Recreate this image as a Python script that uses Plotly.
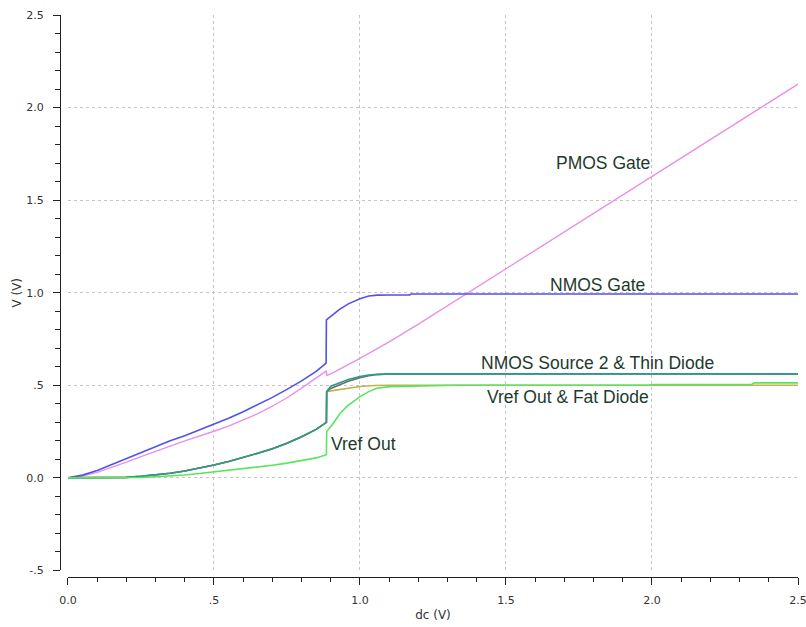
import plotly.graph_objects as go

# ---------------- data ----------------
pmos_x = [0, 0.05, 0.1, 0.15, 0.2, 0.25, 0.3, 0.35, 0.4, 0.45, 0.5, 0.55, 0.6, 0.65, 0.7, 0.75, 0.8, 0.85, 0.885,
          0.886, 0.9, 1.0, 1.1, 1.2, 1.3, 1.37, 1.5, 2.0, 2.5]
pmos_y = [0, 0.01, 0.03, 0.056, 0.085, 0.115, 0.145, 0.172, 0.2, 0.225, 0.252, 0.28, 0.312, 0.347, 0.387, 0.433, 0.485, 0.54, 0.578,
          0.553, 0.562, 0.645, 0.735, 0.83, 0.93, 1.0, 1.13, 1.628, 2.127]

ngate_x = [0, 0.05, 0.1, 0.15, 0.2, 0.25, 0.3, 0.35, 0.4, 0.45, 0.5, 0.55, 0.6, 0.65, 0.7, 0.75, 0.8, 0.85, 0.884,
           0.885, 0.9, 0.93, 0.96, 1.0, 1.03, 1.06, 1.1, 1.17, 1.175, 2.5]
ngate_y = [0, 0.015, 0.04, 0.072, 0.105, 0.14, 0.172, 0.2, 0.228, 0.258, 0.29, 0.322, 0.357, 0.395, 0.435, 0.478, 0.524, 0.575, 0.62,
           0.853, 0.872, 0.91, 0.94, 0.967, 0.982, 0.987, 0.988, 0.988, 0.993, 0.993]

# pre-jump common curve for NMOS source 2 / thin diode / fat diode
diode_pre_x = [0, 0.15, 0.2, 0.25, 0.3, 0.35, 0.4, 0.45, 0.5, 0.55, 0.6, 0.65, 0.7, 0.75, 0.8, 0.85, 0.885]
diode_pre_y = [0, 0.0, 0.003, 0.008, 0.015, 0.025, 0.037, 0.052, 0.07, 0.089, 0.11, 0.133, 0.158, 0.187, 0.222, 0.262, 0.30]

nsrc_post_x = [0.886, 0.9, 0.93, 0.96, 1.0, 1.03, 1.06, 1.1, 2.5]
nsrc_post_y = [0.466, 0.495, 0.515, 0.532, 0.547, 0.556, 0.56, 0.562, 0.562]

thin_post_x = [0.886, 0.9, 0.93, 0.96, 1.0, 1.03, 1.06, 1.1, 2.5]
thin_post_y = [0.466, 0.483, 0.503, 0.522, 0.541, 0.552, 0.558, 0.561, 0.561]

fat_post_x = [0.886, 0.9, 0.95, 1.0, 1.05, 1.1, 2.5]
fat_post_y = [0.466, 0.47, 0.484, 0.494, 0.499, 0.5, 0.5]

vref_x = [0, 0.2, 0.25, 0.3, 0.35, 0.4, 0.45, 0.5, 0.55, 0.6, 0.65, 0.7, 0.75, 0.8, 0.85, 0.885,
          0.886, 0.909, 0.93, 0.954, 0.98, 1.0, 1.03, 1.057, 1.103, 1.3, 1.33, 1.99, 2.0, 2.34, 2.35, 2.5]
vref_y = [0, 0.0, 0.002, 0.006, 0.01, 0.016, 0.024, 0.033, 0.04, 0.047, 0.057, 0.068, 0.08, 0.093, 0.108, 0.125,
          0.25, 0.295, 0.345, 0.385, 0.415, 0.439, 0.466, 0.484, 0.493, 0.496, 0.5, 0.5, 0.504, 0.504, 0.513, 0.513]

x_ticks = [0, 0.5, 1.0, 1.5, 2.0, 2.5]
x_ticktext = ["0.0", ".5", "1.0", "1.5", "2.0", "2.5"]
y_ticks = [-0.5, 0, 0.5, 1.0, 1.5, 2.0, 2.5]
y_ticktext = ["-.5", "0.0", ".5", "1.0", "1.5", "2.0", "2.5"]

labels = ["PMOS Gate", "NMOS Gate", "NMOS Source 2 &amp; Thin Diode", "Vref Out &amp; Fat Diode", "Vref Out"]
label_x = [1.832, 1.812, 1.815, 1.713, 1.013]
label_y = [1.70, 1.042, 0.619, 0.439, 0.184]

# ---------------- figure ----------------
fig = go.Figure()

def add(x, y, color, w=1.5):
    fig.add_trace(go.Scatter(x=x, y=y, mode="lines", line=dict(color=color, width=w),
                             showlegend=False, hoverinfo="skip"))

add(pmos_x, pmos_y, "#e890e8", 1.4)
add(ngate_x, ngate_y, "#5252e8", 1.6)
add(diode_pre_x + fat_post_x, diode_pre_y + fat_post_y, "#c4b04e", 1.6)
add(diode_pre_x + thin_post_x, diode_pre_y + thin_post_y, "#66706a", 1.6)
add(diode_pre_x + nsrc_post_x, diode_pre_y + nsrc_post_y, "#2f9a8a", 1.6)
add(vref_x, vref_y, "#5ee35e", 1.6)

grid = dict(showgrid=True, gridcolor="#c4c4c4", griddash="dot", gridwidth=1,
            zeroline=False, showline=False, ticks="", showticklabels=False, automargin=False)
tickfont = dict(family="DejaVu Sans", size=11, color="#333333")

fig.update_layout(
    width=806, height=627,
    margin=dict(l=60, r=8, t=15, b=50, autoexpand=False),
    paper_bgcolor="white", plot_bgcolor="white",
    xaxis=dict(domain=[0.0108, 1], range=[0, 2.5], tickvals=x_ticks, anchor="y", **grid),
    yaxis=dict(domain=[0.0116, 1], range=[-0.5, 2.5], tickvals=y_ticks, anchor="x", **grid),
    xaxis2=dict(overlaying="x", anchor="free", position=0, range=[0, 2.5], automargin=False,
                tickvals=x_ticks, ticktext=x_ticktext, ticks="outside", ticklen=7,
                tickcolor="#222", tickwidth=1.3, showline=True, linecolor="#222", linewidth=1.3,
                showgrid=False, zeroline=False, tickfont=tickfont, ticklabelstandoff=6,
                ticklabeloverflow="allow",
                minor=dict(dtick=0.1, tick0=0, ticks="outside", ticklen=4, tickcolor="#222", showgrid=False),
                title=dict(text="dc (V)", font=dict(family="DejaVu Sans", size=12, color="#333"), standoff=4)),
    yaxis2=dict(overlaying="y", anchor="free", position=0, range=[-0.5, 2.5], automargin=False,
                tickvals=y_ticks, ticktext=y_ticktext, ticks="outside", ticklen=7,
                tickcolor="#222", tickwidth=1.3, showline=True, linecolor="#222", linewidth=1.3,
                showgrid=False, zeroline=False, tickfont=tickfont, ticklabelstandoff=7,
                ticklabeloverflow="allow",
                minor=dict(dtick=0.1, tick0=0, ticks="outside", ticklen=5, tickcolor="#222", showgrid=False),
                title=dict(text="V (V)", font=dict(family="DejaVu Sans", size=12, color="#333"), standoff=0)),
)

# invisible trace to activate the overlay axes
fig.add_trace(go.Scatter(x=[None], y=[None], xaxis="x2", yaxis="y2", showlegend=False, hoverinfo="skip"))

for t, xx, yy in zip(labels, label_x, label_y):
    fig.add_annotation(x=xx, y=yy, xref="x", yref="y", text=t, showarrow=False,
                       font=dict(family="Liberation Sans", size=17.5, color="#1d3a2c"))

fig.write_html("out.html")
